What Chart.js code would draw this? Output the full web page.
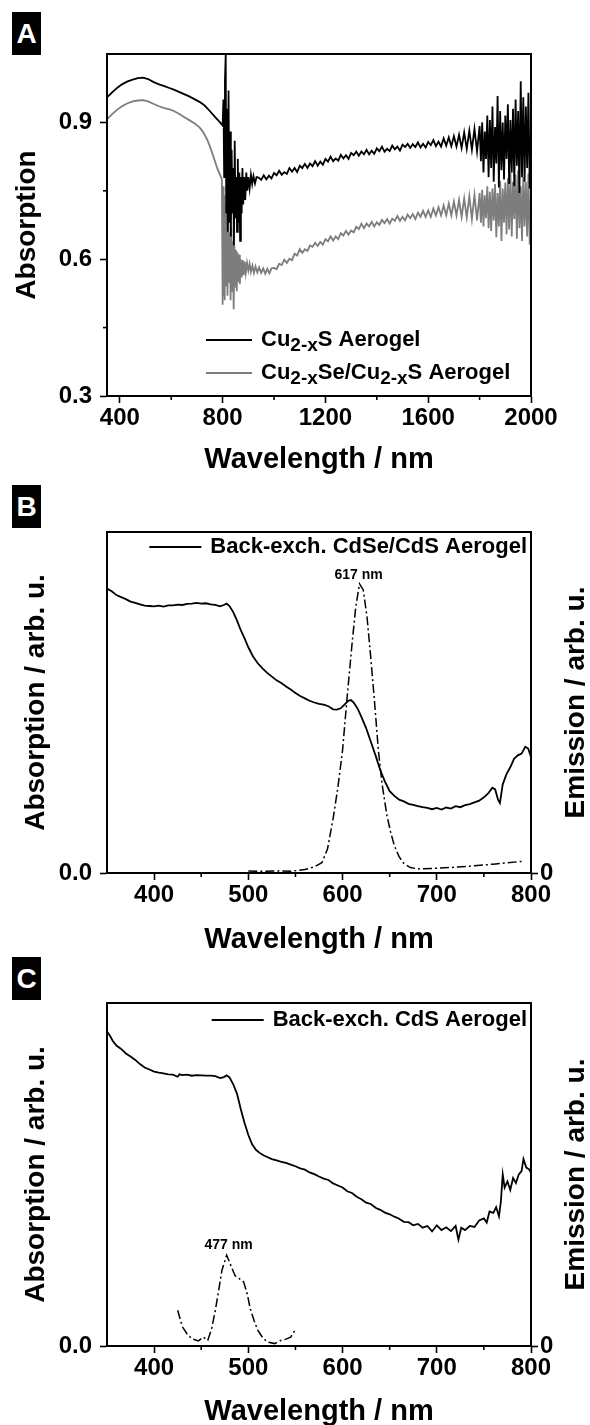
<!DOCTYPE html>
<html><head><meta charset="utf-8">
<script src="https://cdn.jsdelivr.net/npm/chart.js@4.4.1/dist/chart.umd.min.js"></script>
<style>
html,body{margin:0;padding:0;background:#fff;width:590px;height:1425px;overflow:hidden;position:relative;}
canvas{position:absolute;left:0;}
.tag{position:absolute;left:12px;width:29px;height:43px;background:#000;color:#fff;font:bold 28px "Liberation Sans",Arial,sans-serif;display:flex;align-items:center;justify-content:center;}
</style></head><body>
<canvas id="cA" width="590" height="480" style="top:0px"></canvas>
<canvas id="cB" width="590" height="480" style="top:480px"></canvas>
<canvas id="cC" width="590" height="480" style="top:945px"></canvas>
<div class="tag" style="top:12px">A</div>
<div class="tag" style="top:485px">B</div>
<div class="tag" style="top:957px">C</div>
<script>
// ---------- DATA ----------
// Panel A: wavelength (nm), absorption
const aXTicks = [400, 800, 1200, 1600, 2000];
const aXMinor = [600, 1000, 1400, 1800];
const aYTicks = [0.3, 0.6, 0.9];
const aYMinor = [0.45, 0.75];
const cu2xS = [
[350,.955],[370,.966],[390,.976],[410,.984],[430,.990],[450,.994],[470,.997],[490,.998],[510,.995],[530,.989],[550,.984],[570,.980],[590,.976],[610,.972],[630,.967],[650,.962],[670,.957],[690,.951],[710,.945],[730,.937],[750,.925],[770,.912],[790,.900],[800,.893],
[803,.95],[806,.78],[809,.99],[812,1.05],[814,.70],[817,.93],[820,.66],[823,.97],[826,.68],[829,.88],[832,.65],[835,.84],[838,.70],[841,.80],[844,.63],[847,.86],[850,.69],[853,.78],[856,.66],[859,.82],[862,.68],[865,.79],[868,.64],[871,.78],[874,.70],[877,.80],[880,.72],[884,.78],[888,.73],[892,.79],[896,.75],[900,.78],[905,.755],[910,.785],[915,.765],[920,.782],[926,.766],[932,.78],
[940,.779],[950,.774],[960,.784],[970,.775],[980,.783],[990,.777],[1000,.789],[1010,.784],[1020,.794],[1030,.785],[1040,.791],[1050,.787],[1060,.800],[1070,.792],[1080,.800],[1090,.791],[1100,.805],[1110,.800],[1120,.809],[1130,.800],[1140,.810],[1150,.804],[1160,.815],[1170,.805],[1180,.814],[1190,.807],[1200,.820],[1210,.814],[1220,.825],[1230,.815],[1240,.821],[1250,.816],[1260,.829],[1270,.821],[1280,.828],[1290,.820],[1300,.833],[1310,.828],[1320,.836],[1330,.827],[1340,.836],[1350,.830],[1360,.840],[1370,.830],[1380,.838],[1390,.831],[1400,.843],[1410,.837],[1420,.847],[1430,.836],[1440,.842],[1450,.837],[1460,.849],[1470,.841],[1480,.847],[1490,.838],[1500,.851],[1510,.846],[1520,.853],[1530,.844],[1540,.852],[1550,.846],[1560,.856],[1570,.845],[1580,.853],[1590,.845],[1600,.857],[1610,.850],[1620,.861],[1630,.848],[1640,.858],[1650,.847],[1660,.865],[1670,.849],[1680,.867],[1690,.848],[1700,.870],[1710,.847],[1720,.873],[1730,.844],[1740,.878],[1750,.842],[1760,.882],[1770,.840],[1780,.886],[1790,.836],[1800,.892],
[1805,.815],[1810,.900],[1815,.790],[1820,.880],[1825,.820],[1830,.915],[1835,.780],[1840,.905],[1845,.800],[1850,.935],[1855,.770],[1860,.890],[1865,.810],[1870,.958],[1875,.757],[1880,.925],[1885,.795],[1890,.900],[1895,.775],[1900,.915],[1905,.820],[1910,.940],[1915,.765],[1920,.905],[1925,.790],[1930,.930],[1935,.760],[1940,.950],[1945,.805],[1950,.925],[1955,.745],[1960,.990],[1965,.780],[1970,.955],[1975,.770],[1980,.935],[1985,.800],[1990,.965],[1995,.755],[2000,.880]
];
const cu2xSeS = [
[350,.907],[370,.918],[390,.928],[410,.936],[430,.942],[450,.946],[470,.948],[490,.949],[510,.946],[530,.941],[550,.936],[570,.932],[590,.929],[610,.925],[630,.919],[650,.912],[670,.905],[690,.898],[710,.889],[720,.882],[730,.873],[740,.862],[750,.848],[760,.832],[770,.815],[780,.798],[790,.785],[797,.775],
[800,.50],[802,.76],[804,.52],[806,.74],[808,.51],[810,.72],[813,.54],[816,.70],[819,.52],[822,.68],[825,.55],[828,.66],[831,.51],[834,.67],[837,.53],[840,.64],[843,.49],[846,.63],[849,.54],[852,.62],[855,.53],[858,.615],[861,.55],[864,.61],[867,.545],[870,.60],[874,.56],[878,.598],[882,.565],[886,.595],[890,.57],[895,.592],[900,.575],[905,.59],[910,.572],[916,.586],[922,.570],[928,.584],[935,.571],[942,.582],[950,.570],[958,.580],[966,.568],[974,.579],[982,.569],[990,.580],
[1000,.581],[1010,.578],[1020,.590],[1030,.587],[1040,.599],[1050,.592],[1060,.601],[1070,.598],[1080,.612],[1090,.608],[1100,.622],[1110,.614],[1120,.622],[1130,.618],[1140,.630],[1150,.627],[1160,.636],[1170,.629],[1180,.638],[1190,.632],[1200,.644],[1210,.639],[1220,.650],[1230,.641],[1240,.650],[1250,.644],[1260,.657],[1270,.652],[1280,.662],[1290,.654],[1300,.663],[1310,.659],[1320,.671],[1330,.666],[1340,.678],[1350,.668],[1360,.678],[1370,.672],[1380,.682],[1390,.672],[1400,.681],[1410,.675],[1420,.686],[1430,.679],[1440,.688],[1450,.678],[1460,.689],[1470,.684],[1480,.695],[1490,.684],[1500,.693],[1510,.685],[1520,.698],[1530,.690],[1540,.699],[1550,.688],[1560,.702],[1570,.693],[1580,.706],[1590,.693],[1600,.707],[1610,.693],[1620,.711],[1630,.696],[1640,.714],[1650,.696],[1660,.718],[1670,.696],[1680,.722],[1690,.696],[1700,.726],[1710,.696],[1720,.730],[1730,.693],[1740,.733],[1750,.692],[1760,.738],[1770,.688],[1780,.741],[1790,.685],[1800,.745],
[1805,.680],[1810,.752],[1815,.672],[1820,.740],[1825,.690],[1830,.760],[1835,.668],[1840,.748],[1845,.662],[1850,.755],[1855,.685],[1860,.765],[1865,.648],[1870,.745],[1875,.672],[1880,.772],[1885,.640],[1890,.755],[1895,.680],[1900,.768],[1905,.655],[1910,.778],[1915,.665],[1920,.790],[1925,.650],[1930,.770],[1935,.688],[1940,.785],[1945,.645],[1950,.795],[1955,.668],[1960,.760],[1965,.640],[1970,.780],[1975,.672],[1980,.770],[1985,.650],[1990,.788],[1995,.632],[2000,.745]
];

// Panels B and C: wavelength (nm), arbitrary units (0 = axis, 1 = top of frame)
const bcXTicks = [400, 500, 600, 700, 800];
const bcXMinor = [450, 550, 650, 750];
const bcYTicks = [0];
const cdseAbs = [
[350,.834],[355,.826],[360,.815],[365,.809],[370,.803],[375,.796],[380,.792],[385,.788],[390,.784],[395,.783],[400,.782],[405,.784],[410,.781],[415,.785],[420,.785],[425,.787],[430,.786],[435,.789],[440,.790],[445,.792],[450,.790],[455,.791],[460,.788],[465,.786],[470,.782],[474,.786],[477,.790],[480,.783],[484,.765],[488,.740],[492,.712],[496,.688],[500,.662],[505,.635],[510,.615],[515,.600],[520,.587],[525,.576],[530,.565],[535,.557],[540,.547],[545,.538],[550,.528],[555,.519],[560,.512],[565,.505],[570,.500],[575,.496],[580,.494],[585,.489],[590,.480],[594,.479],[598,.483],[602,.494],[606,.505],[609,.507],[612,.499],[616,.482],[620,.458],[625,.425],[630,.385],[635,.345],[640,.302],[645,.268],[650,.240],[655,.226],[660,.215],[665,.210],[670,.203],[675,.200],[680,.196],[685,.193],[690,.191],[695,.187],[700,.191],[705,.186],[710,.192],[715,.189],[720,.196],[725,.193],[730,.199],[735,.202],[740,.207],[745,.212],[750,.222],[755,.235],[759,.250],[762,.245],[765,.215],[767,.205],[770,.260],[774,.290],[778,.310],[782,.335],[786,.345],[790,.350],[794,.370],[797,.365],[800,.340]
];
const cdseEm = [
[500,.006],[515,.005],[530,.006],[545,.005],[560,.010],[570,.018],[578,.030],[584,.070],[590,.160],[595,.250],[600,.360],[605,.520],[610,.670],[614,.780],[618,.848],[622,.830],[626,.750],[630,.630],[634,.500],[638,.360],[642,.260],[647,.170],[651,.120],[655,.080],[660,.048],[665,.028],[672,.016],[680,.012],[700,.014],[720,.017],[740,.021],[760,.026],[775,.030],[790,.034]
];
const cdsAbs = [
[350,.917],[353,.905],[356,.890],[360,.876],[365,.866],[370,.853],[375,.844],[380,.834],[385,.822],[390,.812],[395,.806],[400,.800],[405,.797],[410,.795],[415,.792],[420,.791],[425,.785],[427,.792],[430,.790],[435,.791],[440,.788],[445,.790],[450,.789],[455,.788],[460,.788],[465,.787],[470,.781],[474,.784],[477,.789],[480,.783],[484,.763],[488,.735],[492,.690],[496,.650],[500,.615],[504,.588],[508,.572],[512,.563],[516,.556],[520,.551],[525,.545],[530,.541],[535,.537],[540,.534],[545,.529],[550,.524],[555,.518],[560,.514],[565,.506],[570,.501],[575,.494],[580,.488],[585,.484],[590,.474],[595,.468],[600,.462],[605,.451],[610,.446],[615,.435],[620,.428],[625,.418],[630,.414],[635,.403],[640,.397],[645,.389],[650,.384],[655,.377],[660,.371],[665,.362],[670,.361],[675,.352],[680,.356],[685,.345],[690,.350],[695,.334],[700,.352],[705,.338],[710,.346],[715,.335],[720,.350],[723,.310],[726,.345],[730,.338],[735,.350],[740,.347],[745,.366],[750,.372],[753,.360],[756,.392],[760,.388],[763,.405],[766,.378],[768,.420],[770,.500],[772,.462],[775,.480],[778,.455],[781,.490],[784,.475],[787,.500],[790,.510],[792,.545],[795,.520],[798,.515],[800,.505]
];
const cdsEm = [
[425,.104],[430,.056],[435,.035],[440,.021],[447,.015],[452,.026],[457,.017],[461,.050],[465,.104],[469,.170],[472,.221],[477,.265],[482,.231],[486,.205],[490,.197],[495,.187],[499,.150],[502,.109],[506,.075],[510,.046],[515,.025],[520,.012],[528,.007],[535,.017],[540,.020],[545,.026],[550,.048]
];
const peakNotes = { B: [617, '617 nm', .873], C: [479, '477 nm', .294] };

// ---------- STYLE / HELPERS ----------
const FF = '"Liberation Sans", Arial, Helvetica, sans-serif';
const toXY = arr => arr.map(([x, y]) => ({x, y}));
const tickFont = {family: FF, size: 24, weight: 'bold'};
const titleFont = {family: FF, size: 29, weight: 'bold'};
const yTitleFont = {family: FF, size: 28, weight: 'bold'};
const gridOpts = {display: true, drawOnChartArea: false, drawTicks: true, tickLength: 7, tickWidth: 1.6, tickColor: '#000'};
const borderOpts = {display: true, color: '#000', width: 2};
const setTicks = list => s => { s.ticks = list.map(v => ({value: v})); };

const decor = {
  id: 'decor',
  afterDraw(chart, args, o) {
    const {ctx, chartArea: a} = chart;
    const xs = chart.scales.x, ys = chart.scales.y;
    ctx.save();
    ctx.strokeStyle = '#000'; ctx.lineWidth = 2;
    ctx.strokeRect(a.left, a.top, a.right - a.left, a.bottom - a.top);
    ctx.lineWidth = 1.6;
    (o.xMinor || []).forEach(v => { const p = xs.getPixelForValue(v); ctx.beginPath(); ctx.moveTo(p, a.bottom); ctx.lineTo(p, a.bottom + 4); ctx.stroke(); });
    (o.yMinor || []).forEach(v => { const p = ys.getPixelForValue(v); ctx.beginPath(); ctx.moveTo(a.left - 4, p); ctx.lineTo(a.left, p); ctx.stroke(); });
    // legend
    const fN = 'bold 22px ' + FF, fS = 'bold 19px ' + FF;
    const widthOf = parts => parts.reduce((w, [t, sub]) => { ctx.font = sub ? fS : fN; return w + ctx.measureText(t).width; }, 0);
    (o.legend || []).forEach(it => {
      const y = it.fromTop !== undefined ? a.top + it.fromTop : a.bottom - it.fromBottom;
      const w = widthOf(it.parts);
      const tx = it.textLeft !== undefined ? a.left + it.textLeft : a.right - 4 - w;
      ctx.strokeStyle = it.color; ctx.lineWidth = 2; ctx.setLineDash([]);
      ctx.beginPath(); ctx.moveTo(tx - 9 - it.lineLen, y); ctx.lineTo(tx - 9, y); ctx.stroke();
      ctx.fillStyle = '#000'; ctx.textBaseline = 'middle'; ctx.textAlign = 'left';
      let x = tx;
      it.parts.forEach(([t, sub]) => {
        ctx.font = sub ? fS : fN;
        ctx.fillText(t, x, sub ? y + 6 : y);
        x += ctx.measureText(t).width;
      });
    });
    // peak annotation
    if (o.note) {
      const [wl, txt, v] = o.note;
      ctx.font = 'bold 14px ' + FF; ctx.textAlign = 'center'; ctx.textBaseline = 'middle'; ctx.fillStyle = '#000';
      ctx.fillText(txt, xs.getPixelForValue(wl), ys.getPixelForValue(v));
    }
    // right axis title (reads bottom to top)
    if (o.rightTitle) {
      ctx.font = 'bold 28px ' + FF; ctx.textAlign = 'center'; ctx.textBaseline = 'middle'; ctx.fillStyle = '#000';
      ctx.translate(a.right + 45, (a.top + a.bottom) / 2);
      ctx.rotate(-Math.PI / 2);
      ctx.fillText(o.rightTitle, 0, 0);
    }
    ctx.restore();
  }
};

function xScale(min, max, ticks, plotBottom, canvasH, titlePad) {
  return {
    type: 'linear', min, max,
    afterBuildTicks: setTicks(ticks),
    afterFit: s => { s.height = canvasH - plotBottom; },
    ticks: {font: tickFont, color: '#000', padding: 1, maxRotation: 0, autoSkip: false, callback: v => String(v)},
    grid: gridOpts, border: borderOpts,
    title: {display: true, text: 'Wavelength / nm', font: titleFont, color: '#000', padding: {top: 0, bottom: titlePad}}
  };
}
function yScale(min, max, ticks, title, titlePad) {
  return {
    type: 'linear', position: 'left', min, max,
    afterBuildTicks: setTicks(ticks),
    afterFit: s => { s.width = 107; },
    ticks: {font: tickFont, color: '#000', padding: 8, callback: v => v.toFixed(1)},
    grid: gridOpts, border: borderOpts,
    title: {display: true, text: title, font: yTitleFont, color: '#000', padding: {top: titlePad, bottom: 0}}
  };
}
function y2Scale() {
  return {
    type: 'linear', position: 'right', min: 0, max: 1,
    afterBuildTicks: setTicks(bcYTicks),
    afterFit: s => { s.width = 59; },
    ticks: {font: tickFont, color: '#000', padding: 2, callback: v => String(v)},
    grid: gridOpts, border: borderOpts
  };
}
const baseOpts = {responsive: false, animation: false, devicePixelRatio: 1, events: []};
const solid = (data, color) => ({data: toXY(data), borderColor: color, borderWidth: 1.8, pointRadius: 0, tension: 0, fill: false, yAxisID: 'y'});
const dashdot = data => ({data: toXY(data), borderColor: '#000', borderWidth: 1.5, borderDash: [9, 3, 2, 3], pointRadius: 0, tension: 0, fill: false, yAxisID: 'y2'});

// ---------- PANEL A ----------
new Chart(document.getElementById('cA'), {
  type: 'line',
  data: {datasets: [solid(cu2xS, '#000000'), solid(cu2xSeS, '#7d7d7d')]},
  options: Object.assign({}, baseOpts, {
    layout: {padding: {top: 54, right: 59, left: 0, bottom: 0}},
    plugins: {legend: {display: false}, tooltip: {enabled: false},
      decor: {xMinor: aXMinor, yMinor: aYMinor, legend: [
        {color: '#000', fromBottom: 56, textLeft: 154, lineLen: 46, parts: [['Cu', 0], ['2-x', 1], ['S Aerogel', 0]]},
        {color: '#7d7d7d', fromBottom: 23, textLeft: 154, lineLen: 46, parts: [['Cu', 0], ['2-x', 1], ['Se/Cu', 0], ['2-x', 1], ['S Aerogel', 0]]}
      ]}},
    scales: {x: xScale(350, 2000, aXTicks, 396, 480, 2.6), y: yScale(0.3, 1.05, aYTicks, 'Absorption', 10)}
  }),
  plugins: [decor]
});

// ---------- PANEL B ----------
new Chart(document.getElementById('cB'), {
  type: 'line',
  data: {datasets: [solid(cdseAbs, '#000'), dashdot(cdseEm)]},
  options: Object.assign({}, baseOpts, {
    layout: {padding: {top: 52, right: 0, left: 0, bottom: 0}},
    plugins: {legend: {display: false}, tooltip: {enabled: false},
      decor: {xMinor: bcXMinor, rightTitle: 'Emission / arb. u.', note: peakNotes.B, legend: [
        {color: '#000', fromTop: 15, lineLen: 52, parts: [['Back-exch. CdSe/CdS Aerogel', 0]]}
      ]}},
    scales: {x: xScale(350, 800, bcXTicks, 393, 480, 2.6), y: yScale(0, 1, bcYTicks, 'Absorption / arb. u.', 19), y2: y2Scale()}
  }),
  plugins: [decor]
});

// ---------- PANEL C ----------
new Chart(document.getElementById('cC'), {
  type: 'line',
  data: {datasets: [solid(cdsAbs, '#000'), dashdot(cdsEm)]},
  options: Object.assign({}, baseOpts, {
    layout: {padding: {top: 58, right: 0, left: 0, bottom: 0}},
    plugins: {legend: {display: false}, tooltip: {enabled: false},
      decor: {xMinor: bcXMinor, rightTitle: 'Emission / arb. u.', note: peakNotes.C, legend: [
        {color: '#000', fromTop: 17, lineLen: 52, parts: [['Back-exch. CdS Aerogel', 0]]}
      ]}},
    scales: {x: xScale(350, 800, bcXTicks, 401, 480, -4.4), y: yScale(0, 1, bcYTicks, 'Absorption / arb. u.', 19), y2: y2Scale()}
  }),
  plugins: [decor]
});
</script>
</body></html>
